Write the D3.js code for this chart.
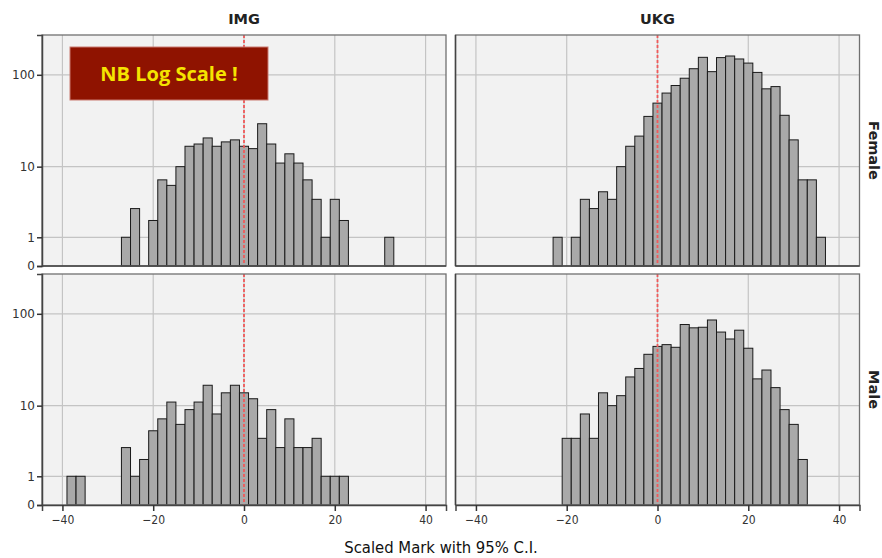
<!DOCTYPE html>
<html>
<head>
<meta charset="utf-8">
<script src="https://cdn.jsdelivr.net/npm/d3@7"></script>
<style>
  body { margin: 0; background: #fff; }
  svg text { font-family: "DejaVu Sans", sans-serif; }
</style>
</head>
<body>
<div id="chart"></div>
<script>
const W = 882, H = 558;

// bin centres (bin width 2)
const bins = d3.range(-38, 37, 2);
const columns = ["IMG", "UKG"];
const rows = ["Female", "Male"];

const imgFemale = [0,0,0,0,0,0, 1,3,0,2,7,6,10,17,18,21,17,19,20,17,16,30,18,11,14,11,7,4,1,4,2,0,0,0,0,1,0,0];
const ukgFemale = [0,0,0,0,0,0,0,0, 1,0,1,4,3,5,4,10,17,22,36,50,64,77,92,116,153,108,152,158,147,133,106,71,75,37,20,7,7,1];
const imgMale = [1,1,0,0,0,0, 3,1,2,5,7,11,6,9,11,17,8,14,17,14,12,4,9,3,7,3,3,4,1,1,1, 0,0,0,0,0,0,0];
const ukgMale = [0,0,0,0,0,0,0,0,0, 4,4,8,4,14,10,13,21,26,37,45,47,44,77,71,72,86,64,54,67,43,20,25,16,9,6,2,0,0];

const xTicks = [-40, -20, 0, 20, 40];
const yTicks = [0, 1, 10, 100];

const panels = [
  { col: 0, row: 0, counts: imgFemale },
  { col: 1, row: 0, counts: ukgFemale },
  { col: 0, row: 1, counts: imgMale },
  { col: 1, row: 1, counts: ukgMale },
];

const colX = [42, 455.5];
const rowY = [35, 274];
const pw = 404, ph = 231;

const svg = d3.select("#chart").append("svg")
  .attr("width", W).attr("height", H);

const x = d3.scaleLinear().domain([-44.5, 44.5]).range([0, pw]);
const y = d3.scaleSymlog().constant(1).domain([0, 263]).range([ph, 0]);

panels.forEach((p) => {
  const g = svg.append("g")
    .attr("transform", `translate(${colX[p.col]},${rowY[p.row]})`);

  g.append("rect")
    .attr("width", pw).attr("height", ph)
    .attr("fill", "#f2f2f2");

  // grid
  g.selectAll(".vgrid").data(xTicks).enter().append("line")
    .attr("x1", (d) => x(d)).attr("x2", (d) => x(d))
    .attr("y1", 0).attr("y2", ph)
    .attr("stroke", "#c4c4c4").attr("stroke-width", 1.2);
  g.selectAll(".hgrid").data(yTicks.slice(1)).enter().append("line")
    .attr("x1", 0).attr("x2", pw)
    .attr("y1", (d) => y(d)).attr("y2", (d) => y(d))
    .attr("stroke", "#c4c4c4").attr("stroke-width", 1.2);

  // bars
  const data = bins.map((b, i) => ({ bin: b, n: p.counts[i] })).filter((d) => d.n > 0);
  g.selectAll(".bar").data(data).enter().append("rect")
    .attr("x", (d) => x(d.bin - 1))
    .attr("width", (d) => x(d.bin + 1) - x(d.bin - 1))
    .attr("y", (d) => y(d.n))
    .attr("height", (d) => y(0) - y(d.n))
    .attr("fill", "#a9a9a9")
    .attr("stroke", "#1a1a1a")
    .attr("stroke-width", 1);

  // reference line at 0
  g.append("line")
    .attr("x1", x(0)).attr("x2", x(0))
    .attr("y1", 0).attr("y2", ph)
    .attr("stroke", "#f05a5a").attr("stroke-width", 1.8)
    .attr("stroke-dasharray", "3,2");

  // frame
  g.append("rect")
    .attr("width", pw).attr("height", ph)
    .attr("fill", "none").attr("stroke", "#707070").attr("stroke-width", 1.3);

  // y axis on left column
  if (p.col === 0) {
    const ya = g.append("g")
      .call(d3.axisLeft(y).tickValues(yTicks).tickFormat(d3.format("d")).tickSize(5).tickPadding(2));
    ya.select(".domain").attr("stroke", "#444").attr("stroke-width", 1.5);
    ya.selectAll(".tick line").attr("stroke", "#333").attr("stroke-width", 1.5);
    ya.selectAll("text").attr("font-size", 12).attr("fill", "#333");
  } else {
    g.append("line").attr("x1", 0).attr("x2", 0).attr("y1", 0).attr("y2", ph)
      .attr("stroke", "#444").attr("stroke-width", 1.5);
  }

  // x axis on bottom row
  if (p.row === 1) {
    const xa = g.append("g")
      .attr("transform", `translate(0,${ph})`)
      .call(d3.axisBottom(x).tickValues(xTicks).tickSize(6).tickPadding(4));
    xa.select(".domain").attr("stroke", "#444").attr("stroke-width", 1.5);
    xa.selectAll(".tick line").attr("stroke", "#333").attr("stroke-width", 1.5);
    xa.selectAll("text").attr("font-size", 12).attr("fill", "#333")
      .style("font-stretch", "condensed");
  } else {
    g.append("line").attr("x1", 0).attr("x2", pw).attr("y1", ph).attr("y2", ph)
      .attr("stroke", "#444").attr("stroke-width", 1.5);
  }
});

// column strips
svg.selectAll(".colLabel").data(columns).enter().append("text")
  .attr("x", (d, i) => colX[i] + x(0))
  .attr("y", 24)
  .attr("text-anchor", "middle")
  .attr("font-size", 14.5).attr("font-weight", "bold").attr("fill", "#222")
  .text((d) => d);

// row strips
svg.selectAll(".rowLabel").data(rows).enter().append("text")
  .attr("transform", (d, i) => `translate(${colX[1] + pw + 9},${rowY[i] + ph / 2}) rotate(90)`)
  .attr("text-anchor", "middle")
  .attr("font-size", 14.5).attr("font-weight", "bold").attr("fill", "#222")
  .text((d) => d);

// axis title
svg.append("text")
  .attr("x", 441).attr("y", 553)
  .attr("text-anchor", "middle")
  .style("font-stretch", "condensed")
  .attr("font-size", 16.5).attr("fill", "#111")
  .text("Scaled Mark with 95% C.I.");

// note box
svg.append("rect")
  .attr("x", 70).attr("y", 47).attr("width", 198).attr("height", 53)
  .attr("fill", "#8f1300").attr("stroke", "#c97b70").attr("stroke-width", 1);
svg.append("text")
  .attr("x", 169).attr("y", 81)
  .attr("text-anchor", "middle")
  .style("font-family", "'Open Sans', sans-serif")
  .attr("font-size", 20).attr("font-weight", "bold").attr("fill", "#f5e400")
  .text("NB Log Scale !");
</script>
</body>
</html>
